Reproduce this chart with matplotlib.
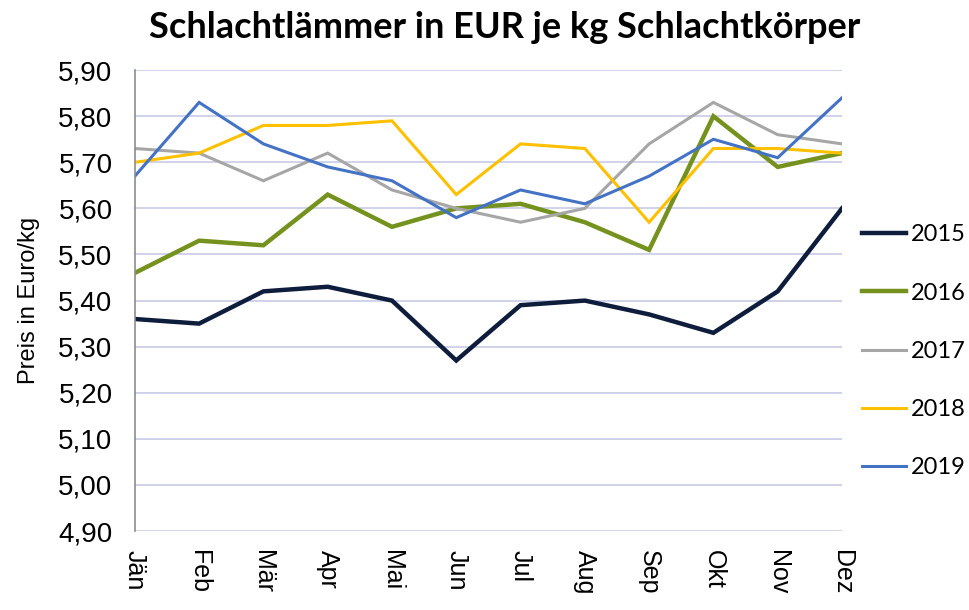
import matplotlib
matplotlib.use("Agg")
from matplotlib import pyplot as plt

# Monthly prices (EUR per kg carcass)
months = ["Jän", "Feb", "Mär", "Apr", "Mai", "Jun", "Jul", "Aug", "Sep", "Okt", "Nov", "Dez"]
p2015 = [5.36, 5.35, 5.42, 5.43, 5.40, 5.27, 5.39, 5.40, 5.37, 5.33, 5.42, 5.60]
p2016 = [5.46, 5.53, 5.52, 5.63, 5.56, 5.60, 5.61, 5.57, 5.51, 5.80, 5.69, 5.72]
p2017 = [5.73, 5.72, 5.66, 5.72, 5.64, 5.60, 5.57, 5.60, 5.74, 5.83, 5.76, 5.74]
p2018 = [5.70, 5.72, 5.78, 5.78, 5.79, 5.63, 5.74, 5.73, 5.57, 5.73, 5.73, 5.72]
p2019 = [5.67, 5.83, 5.74, 5.69, 5.66, 5.58, 5.64, 5.61, 5.67, 5.75, 5.71, 5.84]
yticks = [4.9, 5.0, 5.1, 5.2, 5.3, 5.4, 5.5, 5.6, 5.7, 5.8, 5.9]

series = [
    ("2015", p2015, "#0f1d3c", 3.2),
    ("2016", p2016, "#76921e", 3.2),
    ("2017", p2017, "#a6a6a6", 2.2),
    ("2018", p2018, "#ffc000", 2.2),
    ("2019", p2019, "#4472c4", 2.2),
]

fig = plt.figure(figsize=(9.7, 6.1), dpi=100)
ax = fig.add_axes([0.139, 0.1295, 0.729, 0.7555])

x = list(range(len(months)))
for label, vals, color, lw in series:
    ax.plot(x, vals, color=color, lw=lw, label=label, solid_joinstyle="miter")

ax.set_xlim(0, len(months) - 1)
ax.set_ylim(4.9, 5.9)
ax.set_yticks(yticks)
ax.set_yticklabels([f"{v:.2f}".replace(".", ",") for v in yticks],
                   family="Liberation Sans", fontsize=20)
ax.set_xticks(x)
ax.set_xticklabels(months, rotation=-90, family="Liberation Sans", fontsize=18)
ax.tick_params(axis="y", length=0, pad=16)
ax.tick_params(axis="x", length=0, pad=14)

ax.grid(axis="y", color="#c8cbe8", lw=1.2)
ax.set_axisbelow(True)
for side in ["top", "right", "bottom"]:
    ax.spines[side].set_visible(False)
ax.spines["left"].set_color("#8c8c8c")
ax.spines["left"].set_linewidth(1.2)

ax.set_ylabel("Preis in Euro/kg", family="Liberation Sans", fontsize=17, labelpad=13)

fig.text(0.52, 0.955, "Schlachtlämmer in EUR je kg Schlachtkörper",
         ha="center", va="center", family="Lato", fontweight="bold", fontsize=26)

fig.legend(loc="center left", bbox_to_anchor=(0.877, 0.424), frameon=False,
           prop={"family": "Lato", "size": 17}, handlelength=1.85,
           handletextpad=0.2, labelspacing=1.58, borderpad=0)

fig.savefig("out.png", dpi=100)
